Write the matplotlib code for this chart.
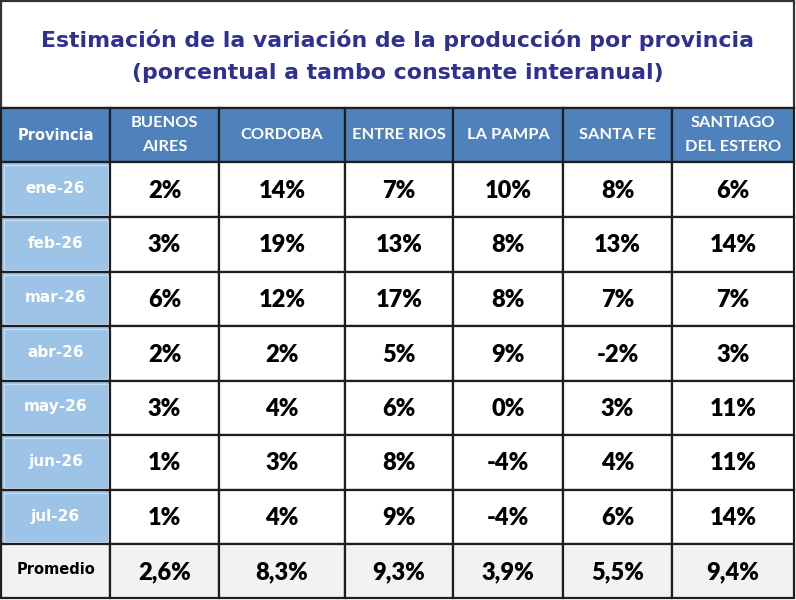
import matplotlib.pyplot as plt
from matplotlib.patches import Rectangle

# Datos de la tabla
titulo = 'Estimación de la variación de la producción por provincia\n(porcentual a tambo constante interanual)'
provincias = ['BUENOS\nAIRES', 'CORDOBA', 'ENTRE RIOS', 'LA PAMPA', 'SANTA FE', 'SANTIAGO\nDEL ESTERO']
meses = ['ene-26', 'feb-26', 'mar-26', 'abr-26', 'may-26', 'jun-26', 'jul-26']
buenos_aires = [2, 3, 6, 2, 3, 1, 1]
cordoba = [14, 19, 12, 2, 4, 3, 4]
entre_rios = [7, 13, 17, 5, 6, 8, 9]
la_pampa = [10, 8, 8, 9, 0, -4, -4]
santa_fe = [8, 13, 7, -2, 3, 4, 6]
santiago = [6, 14, 7, 3, 11, 11, 14]
promedio = ['2,6%', '8,3%', '9,3%', '3,9%', '5,5%', '9,4%']

columnas = [buenos_aires, cordoba, entre_rios, la_pampa, santa_fe, santiago]

# Geometría (pixeles)
col_edges = [1, 110, 219, 345, 453, 563, 672, 794]
row_edges = [1, 108, 162, 217, 272, 326, 381, 435, 490, 544, 598]

azul_header = '#4F81BD'
azul_claro = '#9DC3E6'
gris = '#F2F2F2'
linea = '#1E1E1E'
f_titulo = ['DejaVu Sans']
f_num = ['Lato', 'DejaVu Sans']

fig = plt.figure(figsize=(7.96, 6.0), dpi=100)
ax = fig.add_axes([0, 0, 1, 1])
ax.set_xlim(0, 796)
ax.set_ylim(600, 0)
ax.axis('off')

def celda(c, r, color, ec=linea, lw=1.6):
    x0, x1 = col_edges[c], col_edges[c + 1]
    y0, y1 = row_edges[r], row_edges[r + 1]
    ax.add_patch(Rectangle((x0, y0), x1 - x0, y1 - y0, facecolor=color,
                           edgecolor=ec, linewidth=lw))
    return (x0 + x1) / 2, (y0 + y1) / 2

# Título
ax.add_patch(Rectangle((col_edges[0], row_edges[0]), col_edges[-1] - col_edges[0],
                       row_edges[1] - row_edges[0], facecolor='white',
                       edgecolor='#333333', linewidth=1.6))
ax.text((col_edges[0] + col_edges[-1]) / 2, (row_edges[0] + row_edges[1]) / 2 + 2, titulo,
        ha='center', va='center', fontsize=15.8, fontweight='bold',
        family=f_titulo, color='#2E3192', linespacing=1.75)

# Encabezado
cx, cy = celda(0, 1, azul_header)
ax.text(cx, cy, 'Provincia', ha='center', va='center', color='white',
        fontsize=10.5, fontweight='bold', family=f_titulo)
for j, p in enumerate(provincias):
    cx, cy = celda(j + 1, 1, azul_header)
    ax.text(cx, cy, p, ha='center', va='center', color='white', fontsize=11.8,
            fontweight='bold', family=f_num, linespacing=1.85)

# Filas de meses
for i, m in enumerate(meses):
    r = i + 2
    cx, cy = celda(0, r, azul_claro)
    x0, y0 = col_edges[0] + 2.5, row_edges[r] + 2.5
    ax.add_patch(Rectangle((x0, y0), col_edges[1] - col_edges[0] - 5,
                           row_edges[r + 1] - row_edges[r] - 5, facecolor='none',
                           edgecolor='#C9DEF2', linewidth=0.8))
    ax.text(cx, cy - 1, m, ha='center', va='center', color='white', fontsize=11,
            fontweight='bold', family=f_titulo)
    for j, col in enumerate(columnas):
        cx, cy = celda(j + 1, r, 'white')
        ax.text(cx, cy + 1, f'{col[i]}%', ha='center', va='center', color='black',
                fontsize=17, fontweight='heavy', family=f_num)

# Promedio
r = len(meses) + 2
cx, cy = celda(0, r, gris)
ax.text(cx, cy - 1, 'Promedio', ha='center', va='center', color='black',
        fontsize=10.5, fontweight='bold', family=f_titulo)
for j, v in enumerate(promedio):
    cx, cy = celda(j + 1, r, gris)
    ax.text(cx, cy + 1, v, ha='center', va='center', color='black', fontsize=17,
            fontweight='heavy', family=f_num)

fig.savefig('out.png', dpi=100)
